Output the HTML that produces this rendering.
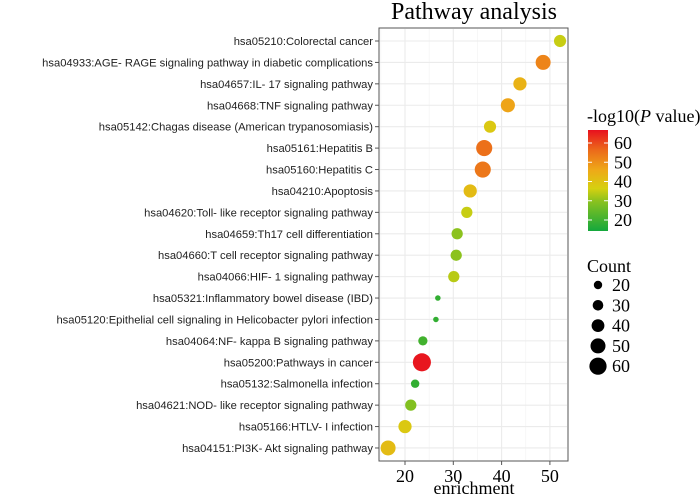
<!DOCTYPE html>
<html><head><meta charset="utf-8"><style>
body{margin:0;background:#fff;width:700px;height:495px;overflow:hidden}
svg{display:block}
</style></head><body>
<svg id="chart" width="700" height="495" xmlns="http://www.w3.org/2000/svg">
<defs><linearGradient id="cg" x1="0" y1="1" x2="0" y2="0">
<stop offset="0" stop-color="#14a83c"/><stop offset="0.3" stop-color="#8cc21e"/><stop offset="0.42" stop-color="#d6d010"/><stop offset="0.6" stop-color="#eeaa18"/><stop offset="0.8" stop-color="#ec6a1a"/><stop offset="1" stop-color="#e8101e"/></linearGradient></defs>
<text x="474" y="19" text-anchor="middle" font-family="Liberation Serif, serif" font-size="24">Pathway analysis</text>
<rect x="379" y="28" width="189" height="433" fill="#fff" stroke="#555" stroke-width="1"/>
<g id="grid"></g><g id="ylabels"></g><g id="points"></g><g id="xticks"></g>
<text x="474" y="494" text-anchor="middle" font-family="Liberation Serif, serif" font-size="18">enrichment</text>
<text x="587" y="122" font-family="Liberation Serif, serif" font-size="18">-log10(<tspan font-style="italic">P</tspan> value)</text>
<rect x="588" y="130" width="20" height="101" fill="url(#cg)"/>
<g id="clegend"></g>
<text x="587" y="272" font-family="Liberation Serif, serif" font-size="18">Count</text>
<g id="slegend"></g>
</svg>
<script>
const pathways=["hsa05210:Colorectal cancer","hsa04933:AGE- RAGE signaling pathway in diabetic complications","hsa04657:IL- 17 signaling pathway","hsa04668:TNF signaling pathway","hsa05142:Chagas disease (American trypanosomiasis)","hsa05161:Hepatitis B","hsa05160:Hepatitis C","hsa04210:Apoptosis","hsa04620:Toll- like receptor signaling pathway","hsa04659:Th17 cell differentiation","hsa04660:T cell receptor signaling pathway","hsa04066:HIF- 1 signaling pathway","hsa05321:Inflammatory bowel disease (IBD)","hsa05120:Epithelial cell signaling in Helicobacter pylori infection","hsa04064:NF- kappa B signaling pathway","hsa05200:Pathways in cancer","hsa05132:Salmonella infection","hsa04621:NOD- like receptor signaling pathway","hsa05166:HTLV- I infection","hsa04151:PI3K- Akt signaling pathway"];
const enrichment=[52.1,48.6,43.8,41.3,37.6,36.4,36.1,33.5,32.8,30.8,30.6,30.1,26.8,26.4,23.7,23.5,22.1,21.2,20.0,16.5];
const counts=[37,50,42,46,37,55,55,42,33,33,33,33,7,7,24,64,20,33,42,50];
const logp=[32,48,40,43,35,51,50,38,32,28,28,31,18,18,20,65,18,27,35,38];
const xTicks=[20,30,40,50];
const colorTicks=[20,30,40,50,60];
const sizeTicks=[20,30,40,50,60];
const NS="http://www.w3.org/2000/svg";
const X=v=>405+(v-20)*4.83;
const Y=i=>41+i*21.42;
const R=c=>Math.max(2.2,4.2+(c-20)*0.11);
const CY=v=>220-(v-20)*1.925;
const stops=[[14,[20,168,60]],[22,[80,180,40]],[28,[140,194,30]],[33,[214,208,16]],[42,[238,170,24]],[52,[236,106,26]],[66,[232,16,30]]];
function col(v){if(v<=stops[0][0])return`rgb(${stops[0][1]})`;for(let i=1;i<stops.length;i++){if(v<=stops[i][0]){const a=stops[i-1],b=stops[i],t=(v-a[0])/(b[0]-a[0]);return`rgb(${a[1].map((c,k)=>Math.round(c+(b[1][k]-c)*t)).join(',')})`;}}return`rgb(${stops[stops.length-1][1]})`;}
function mk(t,a,p){const e=document.createElementNS(NS,t);for(const k in a)e.setAttribute(k,a[k]);p.appendChild(e);return e;}
const grid=document.getElementById('grid'),yl=document.getElementById('ylabels'),pts=document.getElementById('points'),xt=document.getElementById('xticks');
[15,25,35,45,55].forEach(v=>{if(X(v)>379&&X(v)<568){const l=mk('line',{x1:X(v),x2:X(v),y1:29,y2:460,stroke:'#f2f2f2','stroke-width':0.6},grid);}});
xTicks.forEach(v=>{const l=mk('line',{x1:X(v),x2:X(v),y1:29,y2:460,stroke:'#ebebeb','stroke-width':1.1},grid);
const tk=mk('line',{x1:X(v),x2:X(v),y1:461,y2:465,stroke:'#555'},xt);
const t=mk('text',{x:X(v),y:482,'text-anchor':'middle','font-family':'Liberation Serif, serif','font-size':18},xt);t.textContent=v;});
pathways.forEach((p,i)=>{const l=mk('line',{x1:380,x2:567,y1:Y(i),y2:Y(i),stroke:'#ebebeb','stroke-width':1.1},grid);
const tk=mk('line',{x1:375,x2:379,y1:Y(i),y2:Y(i),stroke:'#555'},yl);
const t=mk('text',{x:373,y:Y(i)+4,'text-anchor':'end','font-family':'Liberation Sans, sans-serif','font-size':11.2,fill:'#222'},yl);t.textContent=p;
const c=mk('circle',{cx:X(enrichment[i]),cy:Y(i),r:R(counts[i]),fill:col(logp[i])},pts);});
const cl=document.getElementById('clegend');
colorTicks.forEach(v=>{const a=mk('line',{x1:588,x2:592,y1:CY(v),y2:CY(v),stroke:'#fff'},cl);
const b=mk('line',{x1:604,x2:608,y1:CY(v),y2:CY(v),stroke:'#fff'},cl);
const t=mk('text',{x:614,y:CY(v)+6,'font-family':'Liberation Serif, serif','font-size':18},cl);t.textContent=v;});
const sl=document.getElementById('slegend');
sizeTicks.forEach((v,i)=>{const y=285+i*20.3;const c=mk('circle',{cx:598,cy:y,r:R(v),fill:'#000'},sl);
const t=mk('text',{x:612,y:y+6,'font-family':'Liberation Serif, serif','font-size':18},sl);t.textContent=v;});
</script>
</body></html>
